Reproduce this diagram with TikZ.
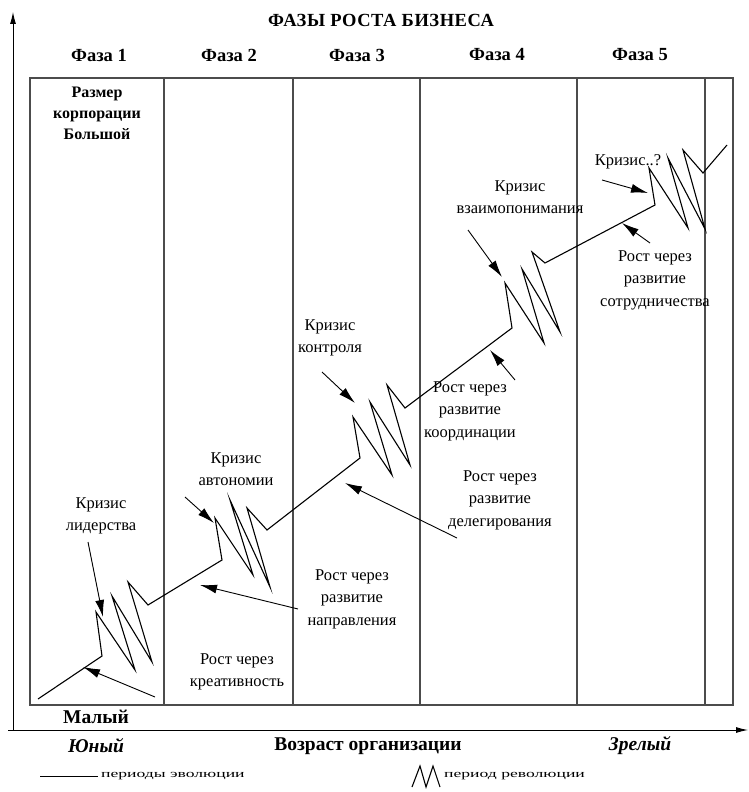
\documentclass[tikz,border=0pt]{standalone}
\usepackage{fontspec}
\setmainfont{Liberation Serif}
\usetikzlibrary{arrows.meta}

\begin{document}
\begin{tikzpicture}[x=1pt,y=-1pt,
  lbl/.style={font=\fontsize{16.5}{22.5}\selectfont, align=center, inner sep=0pt},
  hdr/.style={font=\bfseries\fontsize{19.5}{21}\selectfont, align=center, inner sep=0pt},
  leg/.style={font=\fontsize{11}{12}\selectfont\addfontfeatures{FakeStretch=1.6}, inner sep=0pt, anchor=west},
  pointer/.style={-{Latex[length=17pt,width=9pt]}, line width=0.9pt},
  zig/.style={line width=1.1pt, line join=miter, miter limit=20}]
\useasboundingbox (0,0) rectangle (748,792);

% axes and frame
\draw[line width=0.9pt, -{Latex[length=12pt,width=6pt]}] (13,730) -- (13,12);
\draw[line width=0.9pt, -{Latex[length=12pt,width=6pt]}] (8,730) -- (748,730);
\draw[black!70, line width=1.3pt] (30,78) rectangle (733,705);
\foreach \x in {164,293,420,577,705}
  \draw[black!70, line width=1.2pt] (\x,78) -- (\x,705);

\node[hdr, font=\bfseries\fontsize{18.5}{21}\selectfont\addfontfeatures{LetterSpace=3}] (title) at (381,20) {ФАЗЫ РОСТА БИЗНЕСА};
\foreach \x/\n in {99/1,229/2,357/3,497/4,640/5}
  \node[hdr, font=\bfseries\fontsize{18.5}{21}\selectfont] (faza\n) at (\x,55) {Фаза \n};
\node[hdr, font=\bfseries\fontsize{16}{21}\selectfont] (razmer) at (97,113) {Размер\\корпорации\\Большой};
\node[hdr] (maly) at (96,717) {Малый};
\node[hdr, font=\bfseries\itshape\fontsize{19.5}{21}\selectfont] (yuny) at (96,746) {Юный};
\node[hdr] (vozrast) at (368,746) {Возраст организации};
\node[hdr, font=\bfseries\itshape\fontsize{19.5}{21}\selectfont] (zrely) at (640,746) {Зрелый};

% growth line with revolutions
\draw[zig] (38,699) -- (102,656) -- (96,612) -- (135,670) -- (112,596) -- (152,662) -- (128,582) -- (148,605)
  -- (222,560) -- (215,518) -- (253,575) -- (230,500) -- (270,587) -- (247,508) -- (267,530)
  -- (360,458) -- (353,417) -- (392,475) -- (370,402) -- (410,465) -- (387,385) -- (405,408)
  -- (512,328) -- (505,283) -- (544,343) -- (522,269) -- (560,332) -- (532,252) -- (545,263)
  -- (655,205) -- (649,168) -- (688,228) -- (668,158) -- (705,229) -- (683,150) -- (703,173) -- (727,145);

% crises
\node[lbl] (kriz1) at (101,516) {Кризис\\лидерства};
\node[lbl] (kriz2) at (236,469) {Кризис\\автономии};
\node[lbl] (kriz3) at (330,338) {Кризис\\контроля};
\node[lbl] (kriz4) at (520,197) {Кризис\\взаимопонимания};
\node[lbl] (kriz5) at (628,162) {Кризис..?};
\coordinate (k1a) at (88,542);  \coordinate (k1b) at (103,617);
\coordinate (k2a) at (185,497); \coordinate (k2b) at (214,523);
\coordinate (k3a) at (322,372); \coordinate (k3b) at (355,403);
\coordinate (k4a) at (468,230); \coordinate (k4b) at (502,277);
\coordinate (k5a) at (602,180); \coordinate (k5b) at (648,193);
\foreach \n in {1,...,5}
  \draw[pointer] (k\n a) -- (k\n b);

% growth phases
\node[lbl] (rost1) at (237,672) {Рост через\\креативность};
\node[lbl] (rost2) at (352,599) {Рост через\\развитие\\направления};
\node[lbl] (rost3) at (500,500) {Рост через\\развитие\\делегирования};
\node[lbl] (rost4) at (470,411) {Рост через\\развитие\\координации};
\node[lbl] (rost5) at (655,280) {Рост через\\развитие\\сотрудничества};
\coordinate (r1a) at (155,697); \coordinate (r1b) at (83,667);
\coordinate (r2a) at (298,609); \coordinate (r2b) at (200,585);
\coordinate (r3a) at (457,538); \coordinate (r3b) at (345,483);
\coordinate (r4a) at (515,380); \coordinate (r4b) at (490,350);
\coordinate (r5a) at (650,243); \coordinate (r5b) at (622,223);
\foreach \n in {1,...,5}
  \draw[pointer] (r\n a) -- (r\n b);

% legend
\coordinate (evA) at (40,776);
\coordinate (evB) at (98,776);
\draw[line width=0.9pt] (evA) -- (evB);
\node[leg] (evol) at (101,776) {периоды эволюции};
\draw[zig] (412,787) -- (420,766) -- (426,787) -- (433,766) -- (440,787);
\node[leg] (revol) at (444,776) {период революции};
\end{tikzpicture}
\end{document}
